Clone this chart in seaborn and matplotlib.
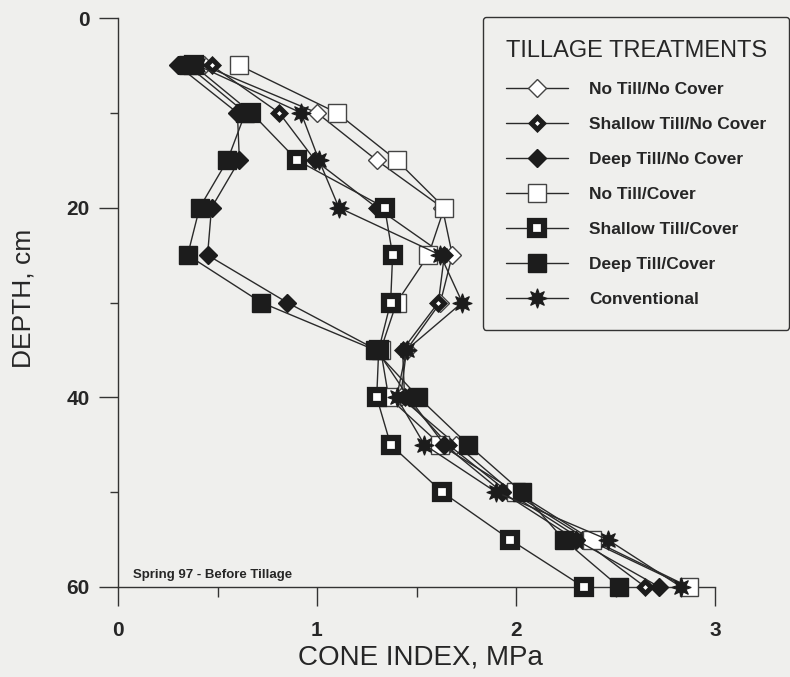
import matplotlib
matplotlib.use("Agg")
import matplotlib.pyplot as plt
import seaborn as sns
import pandas as pd
from matplotlib.ticker import MultipleLocator

# ---- data ----
depth = [5, 10, 15, 20, 25, 30, 35, 40, 45, 50, 55, 60]
no_till_no_cover      = [0.43, 1.00, 1.30, 1.63, 1.68, 1.62, 1.45, 1.42, 1.70, 1.98, 2.36, 2.86]
shallow_till_no_cover = [0.47, 0.81, 0.99, 1.30, 1.64, 1.61, 1.43, 1.44, 1.66, 1.96, 2.33, 2.65]
deep_till_no_cover    = [0.30, 0.60, 0.61, 0.47, 0.45, 0.85, 1.30, 1.46, 1.64, 1.93, 2.30, 2.72]
no_till_cover         = [0.61, 1.10, 1.40, 1.64, 1.56, 1.40, 1.32, 1.36, 1.62, 2.00, 2.38, 2.87]
shallow_till_cover    = [0.38, 0.67, 0.90, 1.34, 1.38, 1.37, 1.31, 1.30, 1.37, 1.63, 1.97, 2.34]
deep_till_cover       = [0.35, 0.64, 0.55, 0.41, 0.35, 0.72, 1.29, 1.51, 1.76, 2.03, 2.24, 2.52]
conventional          = [0.40, 0.92, 1.01, 1.11, 1.62, 1.73, 1.45, 1.40, 1.54, 1.90, 2.46, 2.83]

labels = ["No Till/No Cover", "Shallow Till/No Cover", "Deep Till/No Cover",
          "No Till/Cover", "Shallow Till/Cover", "Deep Till/Cover", "Conventional"]
series = [no_till_no_cover, shallow_till_no_cover, deep_till_no_cover,
          no_till_cover, shallow_till_cover, deep_till_cover, conventional]
x_ticks = [0, 1, 2, 3]
y_ticks = [0, 20, 40, 60]

BG = "#efefed"
INK = "#1c1c1c"

sns.set_style("ticks")
plt.rcParams["font.family"] = ["Liberation Sans", "DejaVu Sans"]

styles = [
    dict(marker="D", ms=8.8, mfc="white", mec="#444444", mew=1.0, z=3.0),
    dict(marker="D", ms=6.5, mfc="white", mec=INK, mew=3.6, z=3.1),
    dict(marker="D", ms=8.8, mfc=INK, mec=INK, mew=1.0, z=3.4),
    dict(marker="s", ms=13.4, mfc="white", mec="#444444", mew=1.0, z=3.2),
    dict(marker="s", ms=9.5, mfc="white", mec=INK, mew=4.5, z=3.3),
    dict(marker="s", ms=13.4, mfc=INK, mec=INK, mew=1.0, z=3.5),
    dict(marker=(8, 1, 0), ms=14, mfc=INK, mec=INK, mew=0.8, z=3.6),
]

fig = plt.figure(figsize=(7.9, 6.77), dpi=100, facecolor=BG)
ax = fig.add_axes([118/790, 1-587/677, (715-118)/790, (587-18)/677])
ax.set_facecolor(BG)

handles = []
for lab, vals, st in zip(labels, series, styles):
    df = pd.DataFrame({"ci": vals, "depth": depth})
    sns.lineplot(data=df, x="ci", y="depth", sort=False, estimator=None, ax=ax,
                 color="#2a2a2a", lw=1.0, clip_on=False, label=lab, zorder=st["z"],
                 marker=st["marker"], markersize=st["ms"], markerfacecolor=st["mfc"],
                 markeredgecolor=st["mec"], markeredgewidth=st["mew"])
    handles.append(ax.lines[-1])

ax.set_xlim(0, 3)
ax.set_ylim(60, 0)
ax.set_xticks(x_ticks)
ax.set_yticks(y_ticks)
ax.xaxis.set_minor_locator(MultipleLocator(0.5))
ax.yaxis.set_minor_locator(MultipleLocator(10))
ax.tick_params(which="major", direction="out", length=13.5, width=1, color="#333333",
               labelsize=15)
ax.tick_params(axis="x", which="major", pad=11)
ax.tick_params(axis="y", which="major", pad=7)
ax.tick_params(axis="x", which="minor", direction="out", length=7, width=1, color="#333333")
ax.tick_params(axis="y", which="minor", direction="out", length=5.5, width=1, color="#333333")
for t in ax.get_xticklabels() + ax.get_yticklabels():
    t.set_fontweight("bold")
for s in ["top", "right"]:
    ax.spines[s].set_visible(False)
for s in ["left", "bottom"]:
    ax.spines[s].set_color("#333333")
    ax.spines[s].set_linewidth(1)

ax.set_xlabel("CONE INDEX, MPa", fontsize=20, va="center")
ax.xaxis.set_label_coords(0.506, (587-658)/569)
ax.set_ylabel("DEPTH, cm", fontsize=19, va="center")
ax.yaxis.set_label_coords((24-118)/597, (587-298)/569)

ax.text(0.075, 58.7, "Spring 97 - Before Tillage", fontsize=9.5, fontweight="bold",
        va="center")

leg = ax.legend(handles=handles, labels=labels, title="TILLAGE TREATMENTS",
                loc="upper left", bbox_to_anchor=(483/790, 1-17/677),
                bbox_transform=fig.transFigure, borderaxespad=0,
                frameon=True, fancybox=True, facecolor=BG, edgecolor="#333333",
                framealpha=1, handlelength=3.6, handletextpad=1.2,
                labelspacing=1.15, borderpad=1.3,
                prop={"weight": "bold", "size": 12.5})
leg.get_title().set_fontsize(17)
leg.get_frame().set_linewidth(1)

fig.savefig("out.png", dpi=100, facecolor=BG)
